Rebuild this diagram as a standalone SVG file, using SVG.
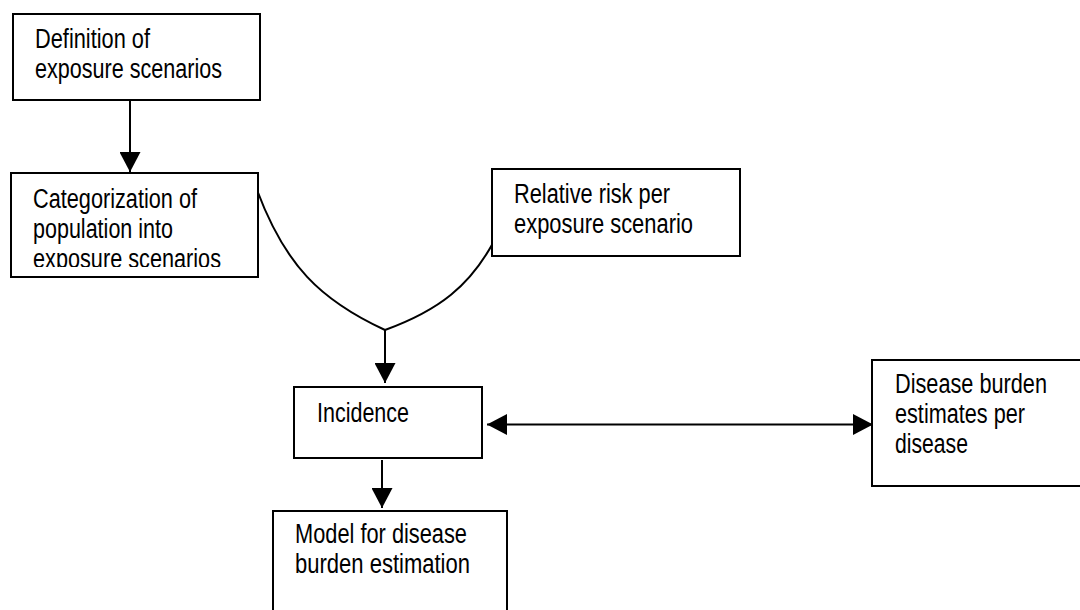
<svg xmlns="http://www.w3.org/2000/svg" width="1080" height="610" viewBox="0 0 1080 610">
<style>
.box{fill:#fff;stroke:#000;stroke-width:2}
.t{font-family:"Liberation Sans",Arial,sans-serif;font-size:27px;fill:#000}
.c{fill:none;stroke:#000;stroke-width:2}
</style>
<defs>
<marker id="ah" viewBox="0 0 20 21" refX="20" refY="10.5" markerWidth="20" markerHeight="21" markerUnits="userSpaceOnUse" orient="auto-start-reverse">
<path d="M0,0 L20,10.5 L0,21 z" fill="#000"/>
</marker>
<clipPath id="clipCat"><rect x="11" y="173" width="247" height="94"/></clipPath>
</defs>
<rect width="1080" height="610" fill="#fff"/>
<g id="connectors">
<line class="c" x1="130" y1="100" x2="130" y2="172" marker-end="url(#ah)"/>
<path class="c" d="M257,190 C285,265 320,300 385,330"/>
<path class="c" d="M493,243 C470,285 440,310 385,330"/>
<line class="c" x1="385" y1="330" x2="385" y2="383" marker-end="url(#ah)"/>
<line class="c" x1="382" y1="460" x2="382" y2="508" marker-end="url(#ah)"/>
<line class="c" x1="487" y1="424.5" x2="873" y2="424.5" marker-start="url(#ah)" marker-end="url(#ah)"/>
</g>
<g id="n-definition">
<rect class="box" x="13" y="14" width="247" height="86"/>
<text class="t" x="35" y="48" textLength="115" lengthAdjust="spacingAndGlyphs">Definition of</text>
<text class="t" x="35" y="78" textLength="187" lengthAdjust="spacingAndGlyphs">exposure scenarios</text>
</g>
<g id="n-categorization">
<rect class="box" x="11" y="173" width="247" height="104"/>
<text class="t" x="33" y="208" textLength="164" lengthAdjust="spacingAndGlyphs">Categorization of</text>
<text class="t" x="33" y="238" textLength="140" lengthAdjust="spacingAndGlyphs">population into</text>
<text class="t" x="33" y="268" textLength="188" lengthAdjust="spacingAndGlyphs" clip-path="url(#clipCat)">exposure scenarios</text>
</g>
<g id="n-relative-risk">
<rect class="box" x="492" y="169" width="248" height="87"/>
<text class="t" x="514" y="203" textLength="156" lengthAdjust="spacingAndGlyphs">Relative risk per</text>
<text class="t" x="514" y="233" textLength="179" lengthAdjust="spacingAndGlyphs">exposure scenario</text>
</g>
<g id="n-incidence">
<rect class="box" x="294" y="387" width="188" height="71"/>
<text class="t" x="317" y="422" textLength="92" lengthAdjust="spacingAndGlyphs">Incidence</text>
</g>
<g id="n-model">
<rect class="box" x="273" y="511" width="234" height="120"/>
<text class="t" x="295" y="543" textLength="172" lengthAdjust="spacingAndGlyphs">Model for disease</text>
<text class="t" x="295" y="573" textLength="175" lengthAdjust="spacingAndGlyphs">burden estimation</text>
</g>
<g id="n-disease-burden">
<rect class="box" x="872" y="360" width="230" height="126"/>
<text class="t" x="895" y="393" textLength="152" lengthAdjust="spacingAndGlyphs">Disease burden</text>
<text class="t" x="895" y="423" textLength="130" lengthAdjust="spacingAndGlyphs">estimates per</text>
<text class="t" x="895" y="453" textLength="73" lengthAdjust="spacingAndGlyphs">disease</text>
</g>
</svg>
